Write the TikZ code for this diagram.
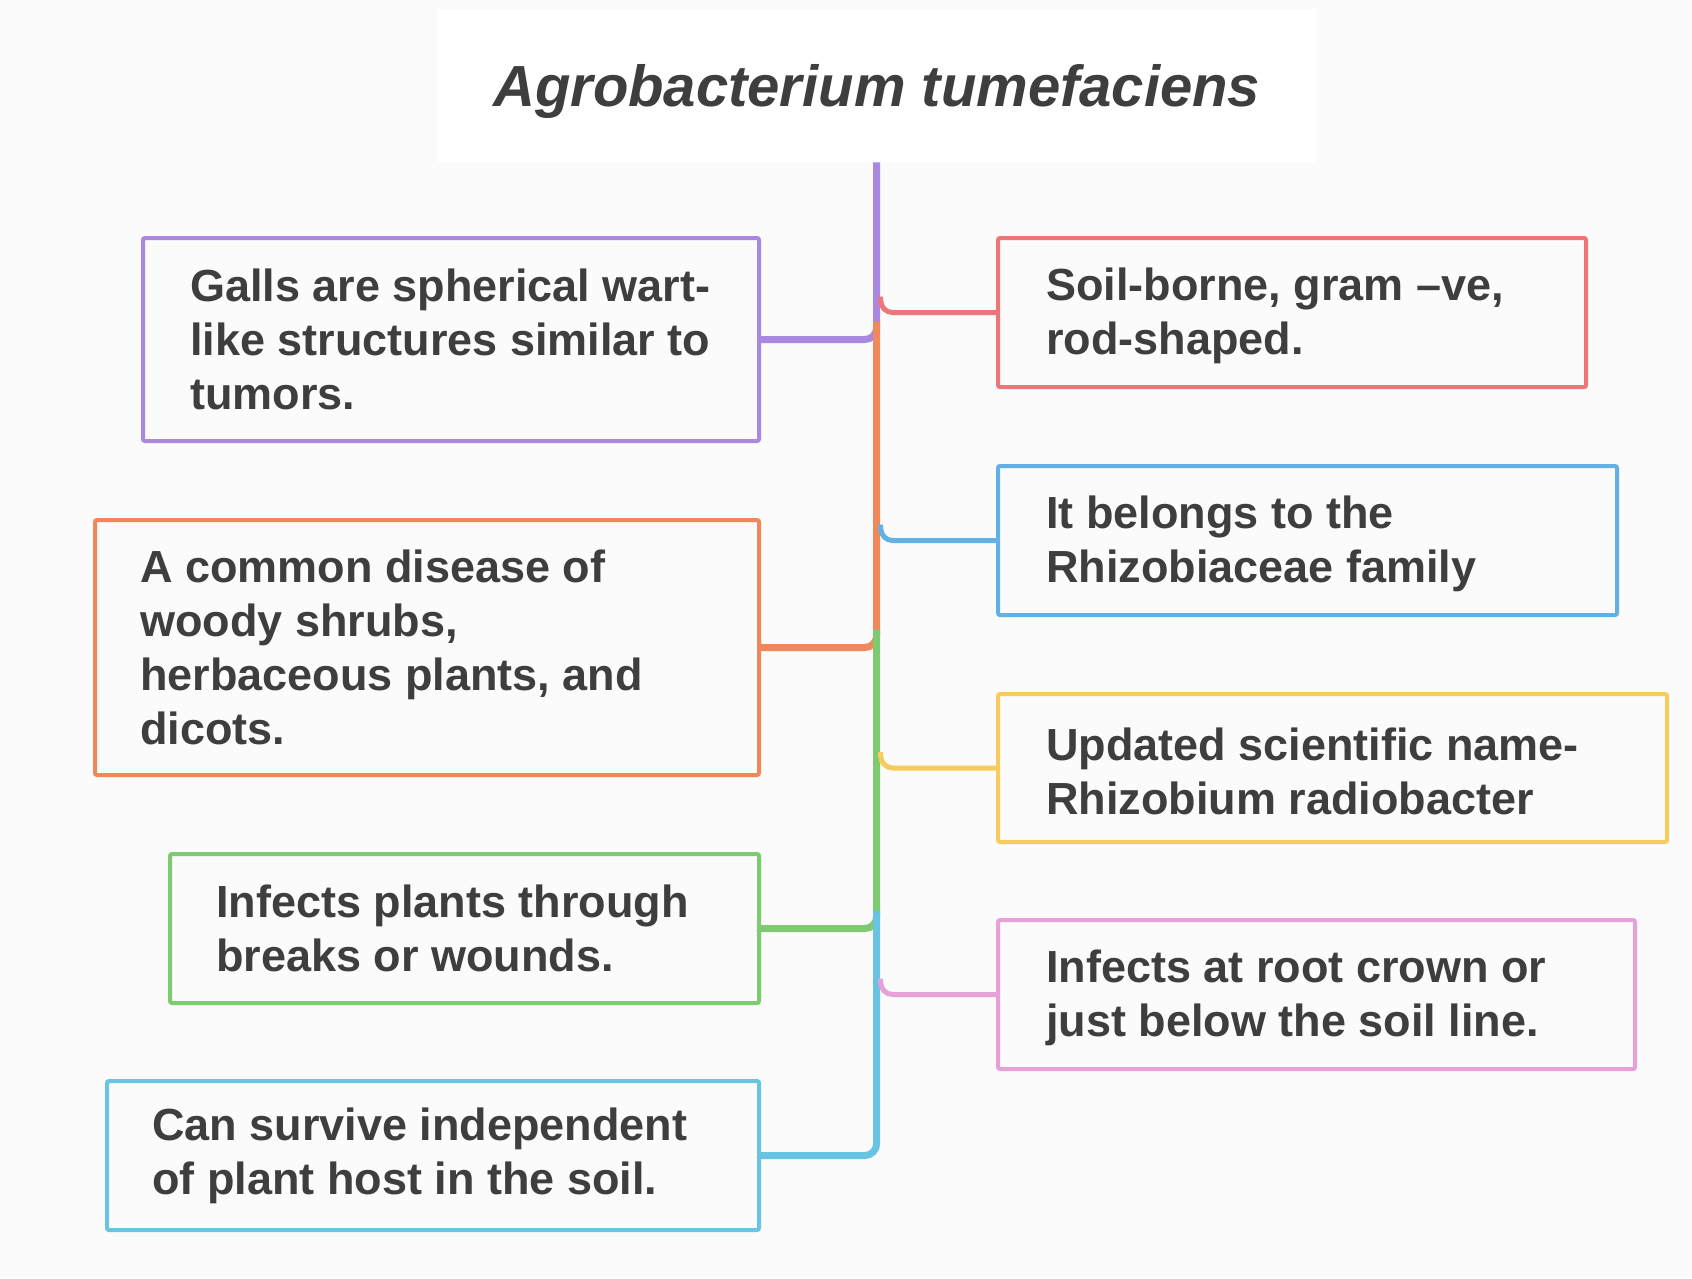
\documentclass[tikz,border=0pt]{standalone}
\usepackage{fontspec}
\setmainfont{Liberation Sans}
\usepackage{tikz}
\usetikzlibrary{calc, positioning}

\definecolor{fondo}{RGB}{251,251,251}
\definecolor{gristexto}{RGB}{62,62,62}
\definecolor{morado}{RGB}{170,135,224}
\definecolor{rojo}{RGB}{238,118,120}
\definecolor{naranja}{RGB}{240,136,92}
\definecolor{azul}{RGB}{98,176,228}
\definecolor{verde}{RGB}{126,202,112}
\definecolor{amarillo}{RGB}{248,204,92}
\definecolor{celeste}{RGB}{104,196,226}
\definecolor{rosa}{RGB}{232,160,216}

\begin{document}
\begin{tikzpicture}[x=1pt, y=-1pt, font=\fontsize{45}{54}\selectfont\bfseries, text=gristexto]
    % Estilos para las cajas, los textos y las ramas
    \tikzstyle{caja} = [draw, rectangle, rounded corners=2pt, line width=4pt, anchor=north west, inner sep=0pt]
    \tikzstyle{etiqueta} = [align=left, inner sep=0pt, anchor=west]
    \tikzstyle{rama} = [line width=7pt, rounded corners=12pt] % ramas del lado izquierdo (tronco)
    \tikzstyle{brote} = [line width=5pt, rounded corners=12pt] % ramas del lado derecho

    \fill[fondo] (0,0) rectangle (1692,1278);
    \useasboundingbox (0,0) rectangle (1692,1278);

    % Titulo
    \node [fill=white, anchor=north west, inner sep=0pt, minimum width=879pt, minimum height=153pt, text depth=0pt,
           font=\fontsize{58}{70}\selectfont\bfseries\itshape] (titulo) at (437,9) {Agrobacterium tumefaciens};

    % Cajas de la izquierda
    \node [caja, draw=morado, minimum width=616pt, minimum height=203pt] (agallas) at (141,236) {};
    \node [etiqueta, right=49pt of agallas.west] (agallas-t) {Galls are spherical wart-\\like structures similar to\\tumors.};
    \node [caja, draw=naranja, minimum width=664pt, minimum height=255pt] (enfermedad) at (93,518) {};
    \node [etiqueta, right=47pt of enfermedad.west] (enfermedad-t) {A common disease of\\woody shrubs,\\herbaceous plants, and\\dicots.};
    \node [caja, draw=verde, minimum width=589pt, minimum height=149pt] (heridas) at (168,852) {};
    \node [etiqueta, right=48pt of heridas.west] (heridas-t) {Infects plants through\\breaks or wounds.};
    \node [caja, draw=celeste, minimum width=652pt, minimum height=149pt] (sobrevive) at (105,1079) {};
    \node [etiqueta, right=47pt of sobrevive.west] (sobrevive-t) {Can survive independent\\of plant host in the soil.};

    % Cajas de la derecha
    \node [caja, draw=rojo, minimum width=588pt, minimum height=149pt] (bacilo) at (996,236) {};
    \node [etiqueta, right=50pt of bacilo.west, yshift=-3pt] (bacilo-t) {Soil-borne, gram –ve,\\rod-shaped.};
    \node [caja, draw=azul, minimum width=619pt, minimum height=149pt] (familia) at (996,464) {};
    \node [etiqueta, right=50pt of familia.west, yshift=-3pt] (familia-t) {It belongs to the\\Rhizobiaceae family};
    \node [caja, draw=amarillo, minimum width=669pt, minimum height=148pt] (nombre) at (996,692) {};
    \node [etiqueta, right=50pt of nombre.west, yshift=-3pt] (nombre-t) {Updated scientific name-\\Rhizobium radiobacter};
    \node [caja, draw=rosa, minimum width=637pt, minimum height=149pt] (cuello) at (996,918) {};
    \node [etiqueta, right=50pt of cuello.west, yshift=-3pt] (cuello-t) {Infects at root crown or\\just below the soil line.};

    % Tronco: cada tramo baja hasta su caja
    \draw[rama, morado] (titulo.south) |- (agallas.east);
    \draw[rama, naranja] ($(titulo.south |- agallas.east)+(0,-18)$) |- (enfermedad.east);
    \draw[rama, verde] ($(titulo.south |- enfermedad.east)+(0,-18)$) |- (heridas.east);
    \draw[rama, celeste] ($(titulo.south |- heridas.east)+(0,-18)$) |- (sobrevive.east);

    % Brotes hacia la derecha
    \draw[brote, rojo] ($(titulo.south |- bacilo.west)+(4,-16)$) |- (bacilo.west);
    \draw[brote, azul] ($(titulo.south |- familia.west)+(4,-16)$) |- (familia.west);
    \draw[brote, amarillo] ($(titulo.south |- nombre.west)+(4,-16)$) |- (nombre.west);
    \draw[brote, rosa] ($(titulo.south |- cuello.west)+(4,-16)$) |- (cuello.west);

\end{tikzpicture}
\end{document}
